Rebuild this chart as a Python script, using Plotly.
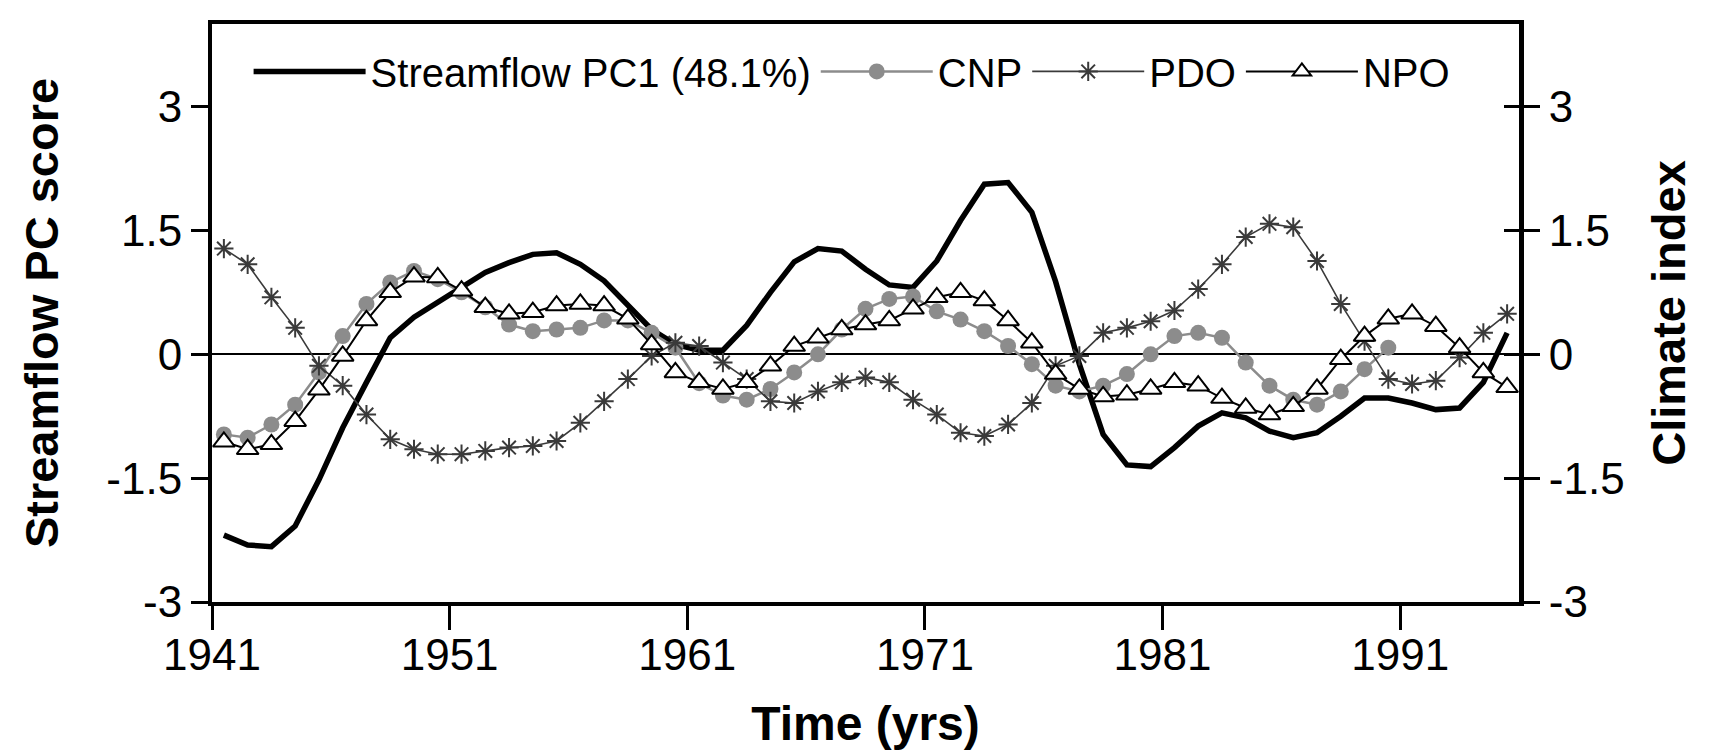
import plotly.graph_objects as go

years = list(range(1941, 1996))

streamflow_pc1 = [-2.19, -2.31, -2.33, -2.08, -1.52, -0.89, -0.34, 0.20, 0.45, 0.63,
                  0.80, 0.99, 1.11, 1.21, 1.23, 1.09, 0.89, 0.59, 0.30, 0.12,
                  0.05, 0.05, 0.35, 0.75, 1.12, 1.28, 1.25, 1.03, 0.84, 0.81,
                  1.13, 1.62, 2.06, 2.08, 1.72, 0.88, -0.12, -0.97, -1.34, -1.36,
                  -1.13, -0.87, -0.71, -0.77, -0.93, -1.01, -0.95, -0.75, -0.53, -0.53,
                  -0.59, -0.67, -0.65, -0.34, 0.26]

cnp_years = list(range(1941, 1991))
cnp = [-0.97, -1.01, -0.85, -0.61, -0.22, 0.22, 0.61, 0.87, 1.01, 0.91,
       0.75, 0.57, 0.36, 0.28, 0.30, 0.32, 0.41, 0.41, 0.26, 0.08,
       -0.35, -0.50, -0.55, -0.42, -0.22, 0.00, 0.30, 0.55, 0.67, 0.70,
       0.52, 0.42, 0.28, 0.10, -0.12, -0.38, -0.45, -0.38, -0.24, 0.00,
       0.22, 0.26, 0.20, -0.10, -0.38, -0.55, -0.61, -0.45, -0.18, 0.08]

pdo = [1.28, 1.09, 0.69, 0.32, -0.14, -0.38, -0.73, -1.03, -1.15, -1.21,
       -1.21, -1.17, -1.13, -1.11, -1.05, -0.83, -0.57, -0.30, -0.02, 0.14,
       0.10, -0.10, -0.30, -0.57, -0.59, -0.45, -0.34, -0.28, -0.34, -0.55,
       -0.73, -0.95, -0.99, -0.85, -0.59, -0.14, -0.02, 0.26, 0.32, 0.40,
       0.53, 0.79, 1.09, 1.42, 1.58, 1.54, 1.13, 0.61, 0.16, -0.30,
       -0.36, -0.32, -0.04, 0.26, 0.49]

npo = [-1.06, -1.15, -1.09, -0.81, -0.43, -0.02, 0.41, 0.75, 0.94, 0.93,
       0.77, 0.57, 0.49, 0.51, 0.59, 0.61, 0.59, 0.43, 0.12, -0.22,
       -0.34, -0.42, -0.34, -0.14, 0.10, 0.20, 0.30, 0.36, 0.41, 0.55,
       0.69, 0.75, 0.65, 0.41, 0.14, -0.24, -0.42, -0.51, -0.49, -0.42,
       -0.34, -0.38, -0.53, -0.65, -0.73, -0.63, -0.42, -0.06, 0.22, 0.43,
       0.49, 0.34, 0.08, -0.22, -0.40]

x_tick_labels = ["1941", "1951", "1961", "1971", "1981", "1991"]
x_tick_pos = [1940.5, 1950.5, 1960.5, 1970.5, 1980.5, 1990.5]
y_tick_vals = [-3, -1.5, 0, 1.5, 3]
y_tick_labels = ["-3", "-1.5", "0", "1.5", "3"]

FONT = "Liberation Sans, Arial, Helvetica, sans-serif"

fig = go.Figure()
fig.add_trace(go.Scatter(x=years, y=streamflow_pc1, name="Streamflow PC1 (48.1%)",
                         mode="lines", line=dict(color="black", width=5.5), yaxis="y"))
fig.add_trace(go.Scatter(x=cnp_years, y=cnp, name="CNP", mode="lines+markers",
                         line=dict(color="#8c8c8c", width=2.5),
                         marker=dict(symbol="circle", size=16, color="#8c8c8c"), yaxis="y2"))
fig.add_trace(go.Scatter(x=years, y=pdo, name="PDO", mode="lines+markers",
                         line=dict(color="#3a3a3a", width=1.6),
                         marker=dict(symbol="asterisk-open", size=16,
                                     line=dict(color="#2a2a2a", width=2)), yaxis="y2"))
fig.add_trace(go.Scatter(x=years, y=npo, name="NPO", mode="lines+markers",
                         line=dict(color="black", width=2),
                         marker=dict(symbol="triangle-up", size=19, color="white",
                                     line=dict(color="black", width=2)), yaxis="y3"))

yrange = [-3, 4]
fig.update_layout(
    width=1709, height=752,
    margin=dict(l=204, r=198, t=13, b=158),
    paper_bgcolor="white", plot_bgcolor="white",
    font=dict(family=FONT, color="black"),
    showlegend=True,
    legend=dict(orientation="h", x=0.028, y=0.918, xanchor="left", yanchor="middle",
                font=dict(size=40, family=FONT), bgcolor="rgba(0,0,0,0)", itemwidth=112,
                traceorder="normal"),
    xaxis=dict(range=[1940.5, 1995.5], tickvals=x_tick_pos, ticktext=x_tick_labels,
               ticks="outside", ticklen=24, tickwidth=3, tickcolor="black",
               showline=True, linewidth=4, linecolor="black", mirror=True,
               showgrid=False, zeroline=False, tickfont=dict(size=44),
               ticklabelstandoff=-13,
               title=dict(text="Time (yrs)", font=dict(size=48, weight="bold"), standoff=30)),
    yaxis=dict(range=yrange, tickvals=y_tick_vals, ticktext=y_tick_labels,
               ticks="outside", ticklen=17, tickwidth=3, tickcolor="black",
               showline=True, linewidth=4, linecolor="black",
               showgrid=False, zeroline=True, zerolinecolor="black", zerolinewidth=2,
               tickfont=dict(size=44),
               title=dict(text="Streamflow PC score", font=dict(size=47, weight="bold"), standoff=34)),
    yaxis2=dict(range=yrange, tickvals=y_tick_vals, ticktext=y_tick_labels,
                overlaying="y", side="right", anchor="x",
                ticks="outside", ticklen=16, tickwidth=3, tickcolor="black",
                showline=True, linewidth=5, linecolor="black",
                showgrid=False, zeroline=False, tickfont=dict(size=44),
                title=dict(text="Climate index", font=dict(size=47, weight="bold"), standoff=30)),
    yaxis3=dict(range=yrange, tickvals=y_tick_vals, overlaying="y", side="right", anchor="x",
                ticks="inside", ticklen=15, tickwidth=3, tickcolor="black",
                showticklabels=False, showline=False, showgrid=False, zeroline=False),
)

fig.write_html("out.html")
